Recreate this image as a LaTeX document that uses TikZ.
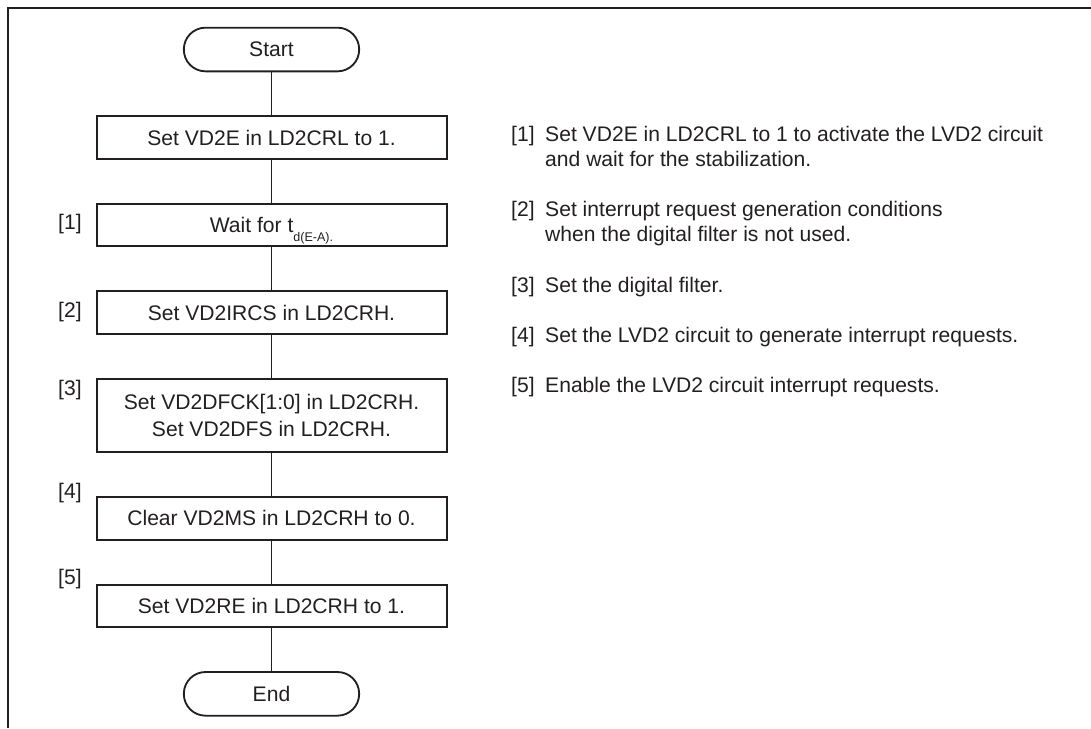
\documentclass[tikz,border=0pt]{standalone}
\usepackage{fontspec}
\setmainfont{Liberation Sans}
\usetikzlibrary{positioning}
\definecolor{inkgray}{RGB}{35,31,32}

\begin{document}
\begin{tikzpicture}[
  font=\fontsize{18}{21.3}\selectfont, color=inkgray,
  term/.style={draw, line width=0.055cm, rounded corners=0.65cm,
    minimum width=5.26cm, minimum height=1.31cm, inner sep=0pt},
  proc/.style={draw, line width=0.06cm, minimum width=10.5cm,
    minimum height=1.275cm, inner sep=0pt, align=center},
  link/.style={line width=0.03cm},
  tag/.style={anchor=west, inner sep=0pt},
  note/.style={anchor=base west, inner sep=0pt},
  node distance=1.29cm,
]

% page and frame (only top and left edge show)
\useasboundingbox (0,0) rectangle (32.73,-21.84);
\draw[line width=0.075cm] (0.24,-21.84) -- (0.24,-0.24) -- (32.73,-0.24);

% flow chart
\node[term] (start) at (8.145,-1.485) {Start};
\node[proc, below=of start] (setve) {Set VD2E in LD2CRL to 1.};
\node[proc, below=of setve] (wait)
  {Wait for t\smash{\raisebox{-7.7pt}{\fontsize{10.7}{12}\selectfont d(E-A).}}};
\node[proc, below=of wait] (ircs) {Set VD2IRCS in LD2CRH.};
\node[proc, below=of ircs, minimum height=2.2cm,
  font=\fontsize{18}{23}\selectfont] (dfck)
  {Set VD2DFCK[1:0] in LD2CRH.\\Set VD2DFS in LD2CRH.};
\node[proc, below=of dfck] (clrms) {Clear VD2MS in LD2CRH to 0.};
\node[proc, below=of clrms] (setre) {Set VD2RE in LD2CRH to 1.};
\node[term, below=of setre] (end) {End};

\foreach \a/\b in {start/setve, setve/wait, wait/ircs, ircs/dfck,
                   dfck/clrms, clrms/setre, setre/end}{
  \draw[link] (\a) -- (\b);
}

% step numbers left of the boxes
\node[tag] (l1) at (1.74, -6.72) {[1]};
\node[tag] (l2) at (1.74, -9.36) {[2]};
\node[tag] (l3) at (1.74,-11.70) {[3]};
\node[tag] (l4) at (1.74,-14.79) {[4]};
\node[tag] (l5) at (1.74,-17.37) {[5]};

% notes on the right
\node[note] (n1) at (15.33, -4.25) {\begin{tabular}[t]{@{}p{1.02cm}@{}l@{}}
  [1]&Set VD2E in LD2CRL to 1 to activate the LVD2 circuit\\
  &and wait for the stabilization.\end{tabular}};
\node[note] (n2) at (15.33, -6.50) {\begin{tabular}[t]{@{}p{1.02cm}@{}l@{}}
  [2]&Set interrupt request generation conditions\\
  &when the digital filter is not used.\end{tabular}};
\node[note] (n3) at (15.33, -8.78) {\begin{tabular}[t]{@{}p{1.02cm}@{}l@{}}
  [3]&Set the digital filter.\end{tabular}};
\node[note] (n4) at (15.33,-10.28) {\begin{tabular}[t]{@{}p{1.02cm}@{}l@{}}
  [4]&Set the LVD2 circuit to generate interrupt requests.\end{tabular}};
\node[note] (n5) at (15.33,-11.78) {\begin{tabular}[t]{@{}p{1.02cm}@{}l@{}}
  [5]&Enable the LVD2 circuit interrupt requests.\end{tabular}};

\end{tikzpicture}
\end{document}
